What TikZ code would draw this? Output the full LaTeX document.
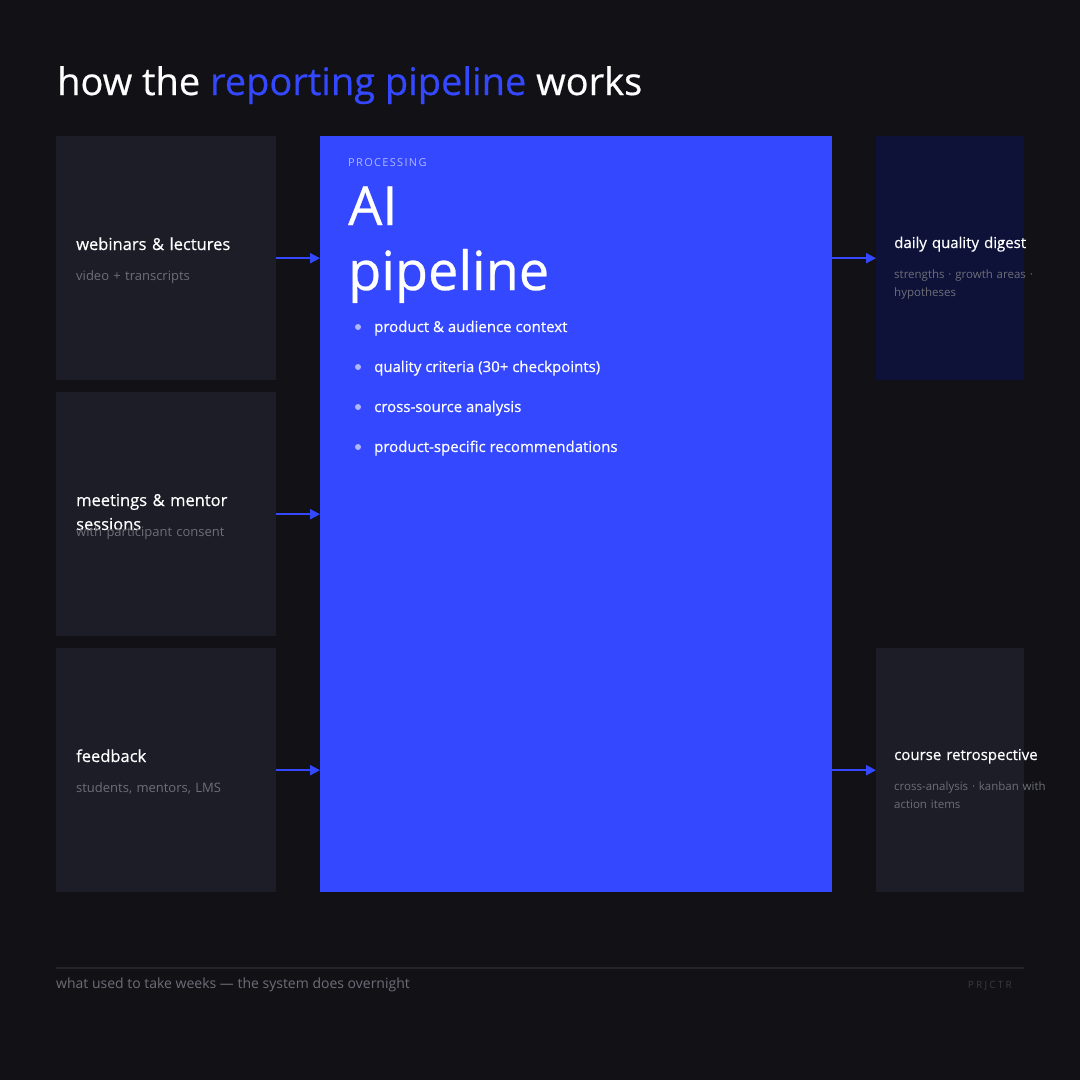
\documentclass[tikz,border=0pt]{standalone}
\usepackage{fontspec}
\setmainfont{Open Sans}
\newfontfamily\spacedfont[LetterSpace=12]{Open Sans}
\newfontfamily\brandfont[LetterSpace=22]{Open Sans}
\newfontfamily\mediumfont[FakeBold=0.5]{Open Sans}
\usetikzlibrary{arrows.meta, positioning}
\usepackage{xcolor}
\definecolor{Bg}{HTML}{111116}
\definecolor{Card}{HTML}{1D1D28}
\definecolor{Navy}{HTML}{0E1238}
\definecolor{Accent}{HTML}{3448FF}
\definecolor{Ink}{HTML}{FFFFFF}
\definecolor{Dim}{HTML}{6E6E78}
\definecolor{Soft}{HTML}{AEB6FF}
\definecolor{Rule}{HTML}{24242C}
\definecolor{Mark}{HTML}{3A3A44}
\hyphenpenalty=10000
\exhyphenpenalty=10000

\begin{document}
\begin{tikzpicture}[x=1pt, y=-1pt,
            card/.style={rectangle, fill=Card, minimum width=220pt, minimum height=244pt, anchor=north west, inner sep=0pt},
            outcard/.style={card, minimum width=148pt},
            core/.style={rectangle, fill=Accent, minimum width=512pt, minimum height=756pt, anchor=north west, inner sep=0pt},
            head/.style={anchor=base west, inner sep=0pt, font=\mediumfont\fontsize{16.5}{24}\selectfont, text=Ink, text width=180pt, align=left},
            sub/.style={anchor=base west, inner sep=0pt, font=\fontsize{13}{18}\selectfont, text=Dim, text width=180pt, align=left},
            outhead/.style={head, font=\mediumfont\fontsize{15}{22}\selectfont, text width=170pt},
            outsub/.style={sub, font=\fontsize{11.5}{18}\selectfont, text width=160pt},
            item/.style={anchor=base west, inner sep=0pt, font=\mediumfont\fontsize{15}{20}\selectfont, text=white},
            dot/.style={circle, fill=Soft, minimum size=6pt, inner sep=0pt},
            arrow/.style={-{Triangle[length=10pt, width=10pt]}, line width=2pt, color=Accent}
        ]
            % Canvas
            \fill[Bg] (0,0) rectangle (1080,1080);
            \useasboundingbox (0,0) rectangle (1080,1080);

            % Title
            \node[anchor=base west, inner sep=0pt, font=\mediumfont\fontsize{38}{42}\selectfont, text=Ink] (title) at (57,95) {how the \textcolor{Accent}{reporting pipeline} works};

            % Sources (left)
            \node[card] (web) at (56,136) {};
            \node[card] (meet) at (56,392) {};
            \node[card] (fb) at (56,648) {};
            \node[head] (webh) at (76,250) {webinars \& lectures};
            \node[sub] (webs) at (76,280) {video + transcripts};
            \node[head] (meeth) at (76,506) {meetings \& mentor sessions};
            \node[sub] (meets) at (76,536) {with participant consent};
            \node[head] (fbh) at (76,762) {feedback};
            \node[sub] (fbs) at (76,792) {students, mentors, LMS};

            % Central processing block
            \node[core] (proc) at (320,136) {};
            \node[anchor=base west, inner sep=0pt, font=\spacedfont\fontsize{11}{13}\selectfont, text=Soft] (tag) at (348,166) {PROCESSING};
            \node[anchor=base west, inner sep=0pt, font=\mediumfont\fontsize{54}{65}\selectfont, text=white, align=left] (ai) at (348,290) {AI\\pipeline};
            \node[dot] (d1) at (358,327) {};
            \node[dot] (d2) at (358,367) {};
            \node[dot] (d3) at (358,407) {};
            \node[dot] (d4) at (358,447) {};
            \node[item] (i1) at (374,332) {product \& audience context};
            \node[item] (i2) at (374,372) {quality criteria (30+ checkpoints)};
            \node[item] (i3) at (374,412) {cross-source analysis};
            \node[item] (i4) at (374,452) {product-specific recommendations};

            % Outputs (right)
            \node[outcard, fill=Navy] (digest) at (876,136) {};
            \node[outcard] (retro) at (876,648) {};
            \node[outhead] (digh) at (894,248) {daily quality digest};
            \node[outsub] (digs) at (894,278) {strengths · growth areas · hypotheses};
            \node[outhead] (reth) at (894,760) {course retrospective};
            \node[outsub] (rets) at (894,790) {cross-analysis · kanban with action items};

            % Arrows into the pipeline
            \draw[arrow] (web.east) -- (proc.west |- web.east);
            \draw[arrow] (meet.east) -- (proc.west |- meet.east);
            \draw[arrow] (fb.east) -- (proc.west |- fb.east);

            % Arrows out of the pipeline
            \draw[arrow] (proc.east |- digest.west) -- (digest.west);
            \draw[arrow] (proc.east |- retro.west) -- (retro.west);

            % Footer
            \draw[Rule, line width=1.5pt] (56,968) -- (1024,968);
            \node[anchor=base west, inner sep=0pt, font=\fontsize{14}{16}\selectfont, text=Dim] (note) at (56,988) {what used to take weeks — the system does overnight};
            \node[anchor=base east, inner sep=0pt, font=\brandfont\fontsize{10}{12}\selectfont, text=Mark] (brand) at (1012,988) {PRJCTR};
        \end{tikzpicture}
\end{document}
